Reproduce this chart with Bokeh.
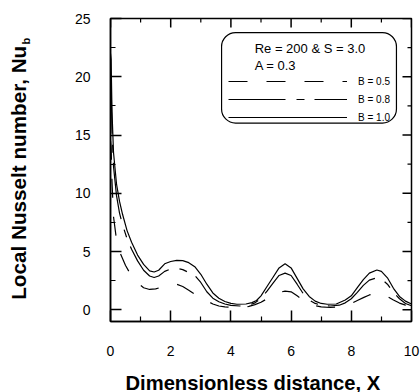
import math
from bokeh.plotting import figure
from bokeh.layouts import row, column
from bokeh.models import (Range1d, FixedTicker, LinearAxis, Legend, LegendItem,
                          BoxAnnotation, Label)
from bokeh.core.properties import value
from bokeh.embed import file_html
from bokeh.resources import INLINE

# ---- data ----
x_b10 = [0.0, 0.02, 0.05, 0.1, 0.2, 0.3, 0.4, 0.55, 0.7, 0.9, 1.1, 1.3, 1.45, 1.6, 1.8, 2.0, 2.2, 2.4,
         2.6, 2.8, 3.0, 3.2, 3.4, 3.6, 3.8, 4.0, 4.2, 4.5, 4.7, 4.85, 5.0, 5.2, 5.4, 5.6, 5.8, 6.0,
         6.2, 6.4, 6.6, 6.8, 7.0, 7.2, 7.5, 7.8, 8.0, 8.2, 8.4, 8.6, 8.85, 9.0, 9.2, 9.4, 9.6,
         9.8, 10.0]
nu_b10 = [22.0, 21.5, 17.0, 13.5, 10.8, 9.3, 8.2, 6.8, 5.8, 4.7, 3.9, 3.35, 3.25, 3.4, 3.95, 4.15, 4.25,
          4.22, 4.05, 3.7, 3.05, 2.2, 1.45, 1.0, 0.72, 0.55, 0.48, 0.5, 0.62, 0.8, 1.2, 2.0, 2.8,
          3.6, 3.95, 3.6, 2.7, 1.8, 1.15, 0.75, 0.55, 0.48, 0.5, 0.85, 1.2, 1.9, 2.6, 3.15, 3.42,
          3.3, 2.75, 1.85, 1.15, 0.75, 0.5]

x_b08 = [0.0, 0.02, 0.05, 0.1, 0.2, 0.3, 0.4, 0.55, 0.7, 0.9, 1.1, 1.3, 1.45, 1.6, 1.8, 2.0, 2.2, 2.4,
         2.6, 2.8, 3.0, 3.2, 3.4, 3.6, 3.8, 4.0, 4.3, 4.6, 4.8, 5.0, 5.2, 5.4, 5.6, 5.8, 6.0, 6.2,
         6.4, 6.6, 6.8, 7.0, 7.3, 7.6, 7.8, 8.0, 8.2, 8.4, 8.6, 8.85, 9.0, 9.2, 9.4, 9.6, 9.8, 10.0]
nu_b08 = [20.0, 19.5, 15.5, 12.3, 9.8, 8.3, 7.3, 6.1, 5.2, 4.2, 3.4, 2.9, 2.78, 2.9, 3.3, 3.5, 3.57,
          3.45, 3.2, 2.95, 2.35, 1.55, 1.0, 0.7, 0.5, 0.38, 0.33, 0.4, 0.6, 1.0, 1.6, 2.3, 2.95,
          3.15, 2.95, 2.2, 1.4, 0.85, 0.55, 0.4, 0.33, 0.4, 0.6, 0.95, 1.5, 2.1, 2.55, 2.75, 2.65,
          2.2, 1.5, 0.95, 0.55, 0.35]

x_b05 = [0.0, 0.02, 0.05, 0.1, 0.2, 0.3, 0.5, 0.7, 0.9, 1.1, 1.3, 1.5, 1.7, 2.0, 2.2, 2.4, 2.6, 2.8,
         3.0, 3.2, 3.4, 3.6, 3.8, 4.1, 4.4, 4.6, 4.8, 5.0, 5.2, 5.4, 5.6, 5.8, 6.0, 6.2, 6.4, 6.6,
         6.8, 7.0, 7.3, 7.6, 7.8, 8.0, 8.2, 8.4, 8.6, 8.85, 9.0, 9.2, 9.4, 9.6, 9.8, 10.0]
nu_b05 = [14.5, 14.0, 11.0, 8.0, 6.0, 5.0, 3.8, 2.9, 2.3, 1.9, 1.75, 1.8, 1.95, 2.2, 2.2, 2.0, 1.68,
          1.35, 1.05, 0.78, 0.5, 0.33, 0.25, 0.2, 0.22, 0.3, 0.45, 0.65, 0.95, 1.25, 1.5, 1.6, 1.55,
          1.2, 0.85, 0.55, 0.35, 0.25, 0.2, 0.25, 0.35, 0.55, 0.8, 1.05, 1.28, 1.42, 1.38, 1.15,
          0.85, 0.58, 0.4, 0.3]

series_labels = ["B = 0.5", "B = 0.8", "B = 1.0"]
x_ticks = [0, 2, 4, 6, 8, 10]
x_minor = [1, 3, 5, 7, 9]
y_ticks = [0, 5, 10, 15, 20, 25]
y_minor = [2.5, 7.5, 12.5, 17.5, 22.5]
header_lines = ["Re = 200 & S = 3.0", "A = 0.3"]
x_title = "Dimensionless distance, X"
y_title_main = "Local Nusselt number, Nu"
y_title_sub = "b"

FONT = "Liberation Sans"
X0, X1 = 0, 10
Y0, Y1 = -1, 25


def blank_fig(w, h, xr):
    f = figure(width=w, height=h, output_backend="svg", toolbar_location=None,
               x_range=Range1d(0, xr), y_range=Range1d(0, h),
               x_axis_location=None, y_axis_location=None,
               min_border=0, min_border_left=0, min_border_right=0,
               min_border_top=0, min_border_bottom=0)
    f.grid.visible = False
    f.outline_line_color = None
    f.background_fill_color = "white"
    f.border_fill_color = "white"
    return f


# ---- main plot ----
p = figure(width=380, height=366, output_backend="svg", toolbar_location=None,
           x_range=Range1d(X0, X1), y_range=Range1d(Y0, Y1),
           min_border_left=70, min_border_right=9, min_border_top=18, min_border_bottom=45,
           x_axis_location=None, y_axis_location=None)
p.grid.visible = False
p.outline_line_color = "black"
p.outline_line_width = 1.5
p.background_fill_color = "white"
p.border_fill_color = "white"


def style_axis(ax, major, minor, tin, mtin):
    ax.ticker = FixedTicker(ticks=major, minor_ticks=minor)
    ax.axis_line_color = "black"
    ax.axis_line_width = 1.5
    ax.major_tick_line_color = "black"
    ax.major_tick_line_width = 1.5
    ax.minor_tick_line_color = "black"
    ax.minor_tick_line_width = 1.2
    ax.major_tick_in = tin
    ax.major_tick_out = 0
    ax.minor_tick_in = mtin
    ax.minor_tick_out = 0
    ax.major_label_text_font = FONT
    ax.major_label_text_font_size = "14px"
    ax.major_label_text_color = "black"


xb = LinearAxis()
style_axis(xb, x_ticks, x_minor, 11, 5)
xb.major_label_standoff = 24
p.add_layout(xb, "below")

yl = LinearAxis()
style_axis(yl, y_ticks, y_minor, 11, 5)
yl.major_label_standoff = 20
p.add_layout(yl, "left")

# inward ticks on the top and right frame edges (half of each dash is clipped by the frame)
p.scatter(x_ticks, [Y1] * len(x_ticks), marker="dash", angle=math.pi / 2, size=18,
          line_color="black", line_width=1.5)
p.scatter(x_minor, [Y1] * len(x_minor), marker="dash", angle=math.pi / 2, size=8,
          line_color="black", line_width=1.2)
p.scatter([X1] * len(y_ticks), y_ticks, marker="dash", size=18,
          line_color="black", line_width=1.5)
p.scatter([X1] * len(y_minor), y_minor, marker="dash", size=8,
          line_color="black", line_width=1.2)

r05 = p.line(x_b05, nu_b05, line_color="black", line_width=1.2, line_dash="19 19")
r08 = p.line(x_b08, nu_b08, line_color="black", line_width=1.2, line_dash="57 11 8 10")
r10 = p.line(x_b10, nu_b10, line_color="black", line_width=1.2)

# legend frame (rounded box)
box = BoxAnnotation(left=3.69, right=9.50, top=23.79, bottom=16.03,
                    fill_color=None, line_color="black", line_alpha=1.0, line_width=1.2,
                    border_radius=14, level="overlay")
p.add_layout(box)

p.add_layout(Label(x=4.79, y=22.42, text=header_lines[0], text_font=FONT,
                   text_font_size="13px", text_color="black", text_baseline="alphabetic"))
p.add_layout(Label(x=4.79, y=20.93, text=header_lines[1], text_font=FONT,
                   text_font_size="13px", text_color="black", text_baseline="alphabetic"))

legend = Legend(items=[LegendItem(label=series_labels[0], renderers=[r05]),
                       LegendItem(label=series_labels[1], renderers=[r08]),
                       LegendItem(label=series_labels[2], renderers=[r10])],
                location=(118, 195), glyph_width=119, glyph_height=18, label_height=18,
                label_standoff=11, spacing=0, padding=0, margin=0,
                border_line_color=None, background_fill_alpha=0,
                label_text_font=FONT, label_text_font_size="10px", label_text_color="black")
p.add_layout(legend)

# ---- y title strip (left) ----
ys = blank_fig(40, 392, 40)
ys.text(x=[18], y=[392 - 299.3], text=[y_title_main], angle=math.pi / 2,
        text_font=value(FONT), text_font_style="bold", text_font_size="20.7px",
        text_color="black", text_align="left", text_baseline="alphabetic")
ys.text(x=[25], y=[392 - 44.0], text=[y_title_sub], angle=math.pi / 2,
        text_font=value(FONT), text_font_style="bold", text_font_size="11px",
        text_color="black", text_align="left", text_baseline="alphabetic")

# ---- x title strip (bottom); its frame lines up with the main plot frame (301 px) ----
xs = blank_fig(380, 26, 301)
xs.text(x=[15], y=[10], text=[x_title],
        text_font=value(FONT), text_font_style="bold", text_font_size="20.2px",
        text_color="black", text_align="left", text_baseline="alphabetic")

layout = row(ys, column(p, xs, spacing=0), spacing=0)

open("out.html", "w").write(file_html(layout, INLINE))
